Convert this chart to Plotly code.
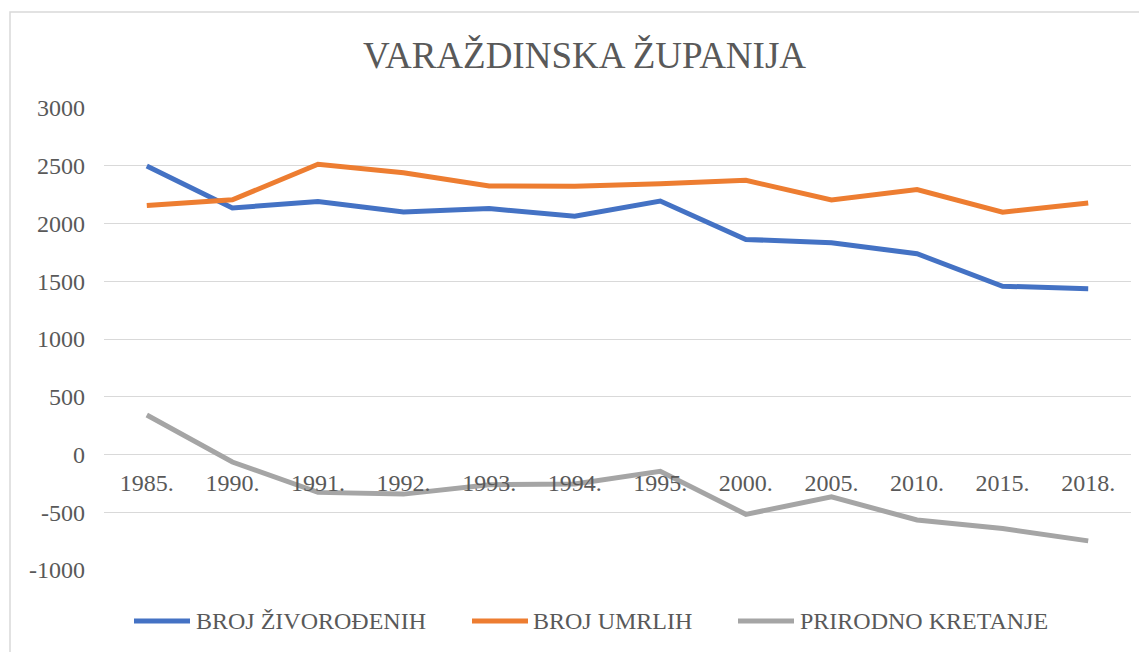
import plotly.graph_objects as go

years = ["1985.", "1990.", "1991.", "1992.", "1993.", "1994.", "1995.",
         "2000.", "2005.", "2010.", "2015.", "2018."]
births = [2498, 2135, 2190, 2100, 2129, 2063, 2195, 1862, 1834, 1738, 1457, 1436]
deaths = [2156, 2205, 2513, 2440, 2325, 2322, 2344, 2374, 2203, 2294, 2098, 2177]
natural = [342, -65, -328, -343, -262, -256, -145, -518, -367, -567, -641, -748]

series_names = ["BROJ ŽIVOROĐENIH", "BROJ UMRLIH", "PRIRODNO KRETANJE"]
series_colors = ["#4472C4", "#ED7D31", "#A5A5A5"]
y_ticks = [3000, 2500, 2000, 1500, 1000, 500, 0, -500, -1000]

# the page body adds an 8px margin; work in screen pixels and shift back
OFF = 8
W, H = 1147 - OFF, 652 - OFF
L, T = 104 - OFF, 108 - OFF
R = W - (1131 - OFF)
B = H - (570 - OFF)
PW, PH = W - L - R, H - T - B
FONT = "Liberation Serif, Times New Roman, serif"
TXT = "#595959"
FS = 24


def px_x(p):
    return (p - OFF - L) / PW


def px_y(p):
    return (H - B - (p - OFF)) / PH


fig = go.Figure()
for name, vals, col in zip(series_names, [births, deaths, natural], series_colors):
    fig.add_trace(go.Scatter(
        x=years, y=vals, mode="lines", name=name,
        line=dict(color=col, width=5), showlegend=False,
    ))

# manual legend (line swatches + labels)
leg_line = [(134, 190), (472, 528), (738, 794)]
leg_text = [194, 531, 798]
ly = px_y(621)
for (a, b), tx, name, col in zip(leg_line, leg_text, series_names, series_colors):
    fig.add_shape(type="line", xref="paper", yref="paper",
                  x0=px_x(a), x1=px_x(b), y0=ly, y1=ly,
                  line=dict(color=col, width=5))
    fig.add_annotation(xref="paper", yref="paper", x=px_x(tx), y=ly,
                       text=name, showarrow=False, xanchor="left", yanchor="middle",
                       font=dict(family=FONT, size=FS, color=TXT))

# chart border
fig.add_shape(type="rect", xref="paper", yref="paper",
              x0=px_x(10), x1=px_x(1160), y0=px_y(12), y1=px_y(664),
              line=dict(color="#D9D9D9", width=1.5), layer="below")

fig.update_layout(
    width=W, height=H,
    margin=dict(l=L, r=R, t=T, b=B),
    paper_bgcolor="white", plot_bgcolor="white",
    title=dict(text="VARAŽDINSKA ŽUPANIJA", xref="container", yref="container",
               x=(584.5 - OFF) / W, y=1 - (55 - OFF) / H,
               xanchor="center", yanchor="middle",
               font=dict(family=FONT, size=37, color=TXT)),
    font=dict(family=FONT, size=FS, color=TXT),
    xaxis=dict(type="category", anchor="free", position=0.25,
               range=[-0.5, len(years) - 0.5],
               showgrid=False, showline=False, zeroline=False, ticks="",
               ticklabelstandoff=11,
               tickfont=dict(family=FONT, size=FS, color=TXT)),
    yaxis=dict(range=[-1000, 3000], tickvals=y_ticks, ticktext=[str(v) for v in y_ticks],
               showgrid=True, gridcolor="#D9D9D9", gridwidth=1.3,
               zeroline=False, showline=False, ticks="",
               ticklabelstandoff=18,
               tickfont=dict(family=FONT, size=FS, color=TXT)),
    showlegend=False,
    hovermode=False,
)

fig.write_html("out.html")
